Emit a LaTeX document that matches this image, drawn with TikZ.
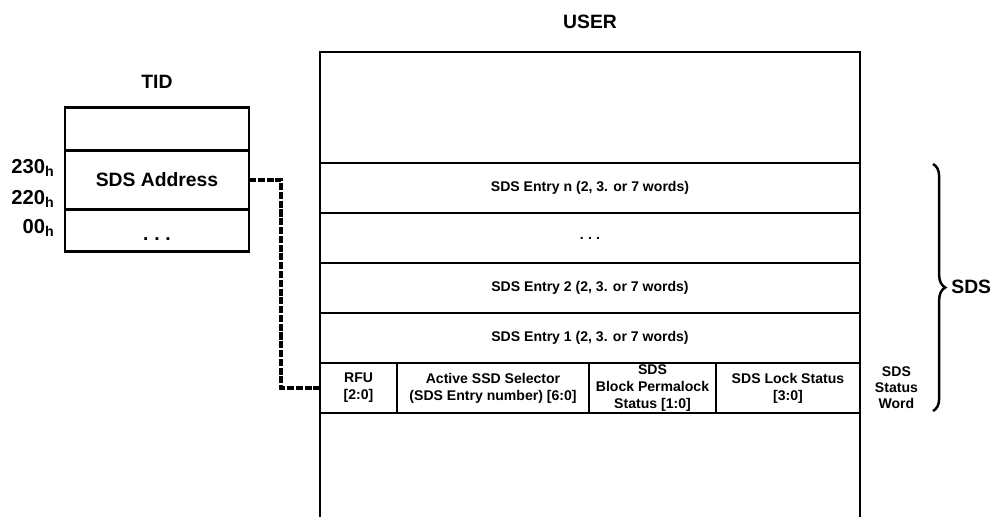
\documentclass[tikz,border=0pt]{standalone}
\usepackage{fontspec}
\setmainfont{Liberation Sans}
\usetikzlibrary{positioning,decorations.pathreplacing}
\tikzset{
    tidcell/.style={rectangle,draw,line width=1.6pt,minimum width=3.68cm,inner sep=0pt,outer sep=0pt,font=\fontsize{11}{13}\selectfont\bfseries},
    userrow/.style={rectangle,draw,line width=1.6pt,minimum width=10.8cm,minimum height=1cm,inner sep=0pt,outer sep=0pt,font=\fontsize{8}{9.5}\selectfont\bfseries},
    statuscell/.style={rectangle,draw,line width=1.6pt,minimum height=1cm,inner sep=0pt,outer sep=0pt,align=center,font=\fontsize{8}{9.6}\selectfont\bfseries},
    addrlabel/.style={anchor=east,inner sep=0pt,font=\fontsize{11.5}{14}\selectfont\bfseries},
    titlelabel/.style={inner sep=0pt,font=\fontsize{11}{13}\selectfont\bfseries},
    userframe/.style={line width=1.6pt},
    linkline/.style={line width=1.8pt,dash pattern=on 4pt off 1pt},
    braceline/.style={decorate,decoration={brace,amplitude=7pt},line width=1.4pt}
}
\newcommand{\celldots}{.\hspace{0.3em}.\hspace{0.3em}.}

\begin{document}
\begin{tikzpicture}[x=0.02cm,y=-0.02cm]
    \useasboundingbox (0,0) rectangle (999,517);
    % TID bank
    \node[titlelabel] (tidtitle) at (157,82) {TID};
    \node[tidcell,minimum height=0.86cm] (tidtop) at (157,129) {};
    \node[tidcell,minimum height=1.18cm,below=0pt of tidtop] (tidaddr) {SDS Address};
    \node[tidcell,minimum height=0.84cm,below=0pt of tidaddr] (tiddots) {\rule{0pt}{2ex}\celldots};
    \node[addrlabel] (addr230) at (55,168) {230\textsubscript{h}};
    \node[addrlabel] (addr220) at (55,199) {220\textsubscript{h}};
    \node[addrlabel] (addr00) at (55,228) {00\textsubscript{h}};
    % USER bank
    \node[titlelabel] (usertitle) at (590,22) {USER};
    \draw[userframe] (320,517) -- (320,52) -- (860,52) -- (860,517);
    \node[userrow] (entryn) at (590,188) {SDS Entry n (2, 3. or 7 words)};
    \node[userrow,below=0pt of entryn] (entrydots) {\celldots};
    \node[userrow,below=0pt of entrydots] (entry2) {SDS Entry 2 (2, 3. or 7 words)};
    \node[userrow,below=0pt of entry2] (entry1) {SDS Entry 1 (2, 3. or 7 words)};
    % status word
    \node[statuscell,minimum width=1.54cm,below right=0pt and 0pt of entry1.south west] (rfu) {RFU\\{}[2:0]};
    \node[statuscell,minimum width=3.84cm,right=0pt of rfu] (selector) {Active SSD Selector\\(SDS Entry number) [6:0]};
    \node[statuscell,minimum width=2.54cm,right=0pt of selector] (permalock) {SDS\\Block Permalock\\Status [1:0]};
    \node[statuscell,minimum width=2.88cm,right=0pt of permalock] (lockstatus) {SDS Lock Status\\{}[3:0]};
    \node[statuscell,draw=none,right=3mm of lockstatus,font=\fontsize{8}{9}\selectfont\bfseries] (statusword) {SDS\\Status\\Word};
    % link and brace
    \draw[linkline] (tidaddr.east) -- ++(32,0) |- (rfu.west);
    \draw[braceline] (933,164) -- (933,411);
    \node[titlelabel,anchor=west] (sdslabel) at (951,287) {SDS};
\end{tikzpicture}
\end{document}
